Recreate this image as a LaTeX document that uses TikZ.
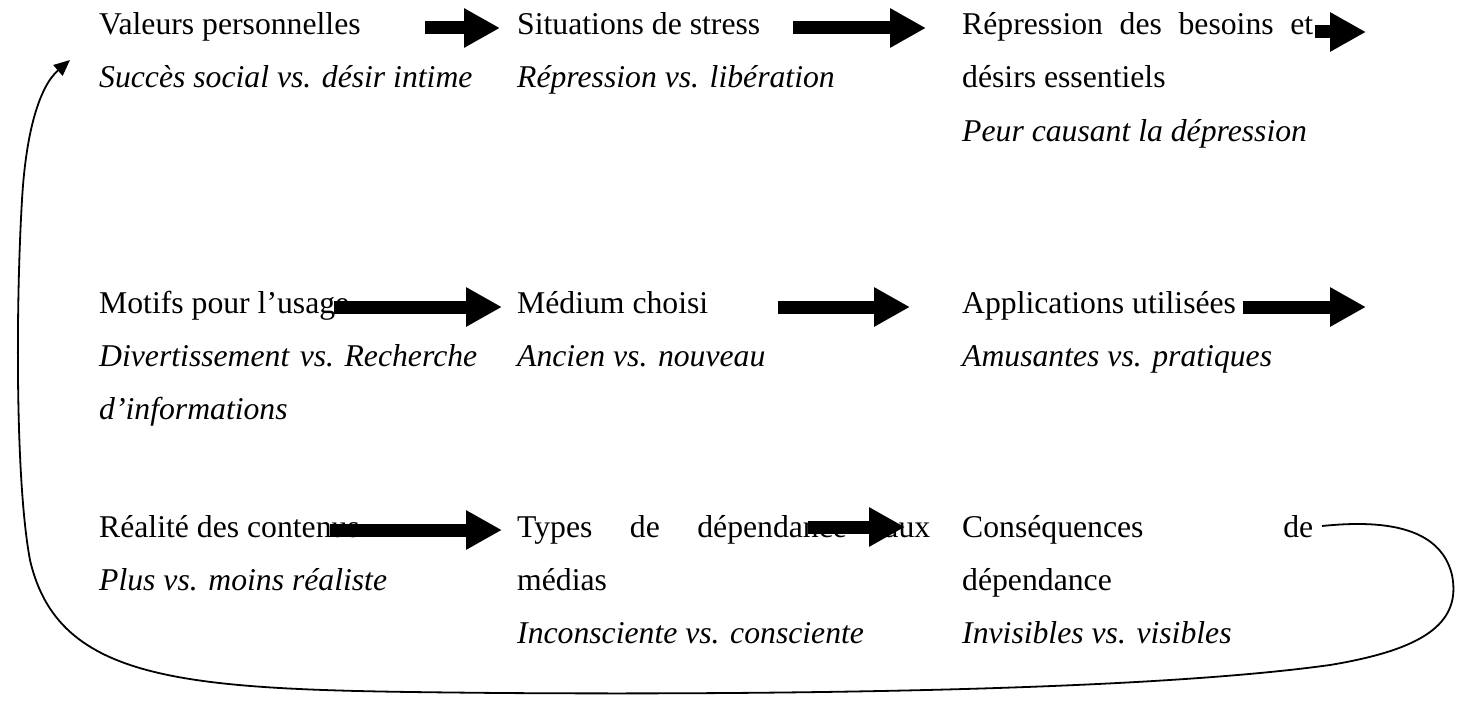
\documentclass[tikz,border=0pt]{standalone}
\usepackage{fontspec}
\setmainfont{Liberation Serif}
\usetikzlibrary{arrows.meta}
\begin{document}
\begin{tikzpicture}[x=1pt,y=-1pt,
  txt/.style={anchor=base west, inner sep=0pt, font=\fontsize{31.7}{38}\selectfont},
  itx/.style={anchor=base west, inner sep=0pt, font=\fontsize{31.7}{38}\selectfont\itshape},
  blockarrow/.style={line width=13pt, -{Triangle[length=36pt,width=37pt]}},
  loopline/.style={line width=1.8pt, -{Triangle[length=16pt,width=14pt]}}]
\fill[white] (0,0) rectangle (1468,701);
\useasboundingbox (0,0) rectangle (1468,701);
% row 1
\node[txt] (v1) at (99,35) {Valeurs personnelles};
\node[itx] (v2) at (99,88) {Succès social vs. désir intime};
\node[txt] (s1) at (517,35) {Situations de stress};
\node[itx] (s2) at (517,88) {Répression vs. libération};
\node[txt] (r1) at (962,35) {\makebox[351pt][s]{Répression\hfill des\hfill besoins\hfill et}};
\node[txt] (r2) at (962,88) {désirs essentiels};
\node[itx] (r3) at (962,141) {Peur causant la dépression};
% row 2
\node[txt] (m1) at (99,313) {Motifs pour l’usage};
\node[itx] (m2) at (99,366) {\makebox[378pt][s]{Divertissement\hfill vs.\hfill Recherche}};
\node[itx] (m3) at (99,419) {d’informations};
\node[txt] (d1) at (517,313) {Médium choisi};
\node[itx] (d2) at (517,366) {Ancien vs. nouveau};
\node[txt] (p1) at (962,313) {Applications utilisées};
\node[itx] (p2) at (962,366) {Amusantes vs. pratiques};
% row 3
\node[txt] (c1) at (99,537) {Réalité des contenus};
\node[itx] (c2) at (99,590) {Plus vs. moins réaliste};
\node[txt] (t1) at (517,537) {\makebox[413pt][s]{Types\hfill de\hfill dépendance\hfill aux}};
\node[txt] (t2) at (517,590) {médias};
\node[itx] (t3) at (517,643) {Inconsciente vs. consciente};
\node[txt] (q1) at (962,537) {\makebox[351pt][s]{Conséquences\hfill de}};
\node[txt] (q2) at (962,590) {dépendance};
\node[itx] (q3) at (962,643) {Invisibles vs. visibles};
% arrow end points
\coordinate (a1s) at (425,28);  \coordinate (a1e) at (500,28);
\coordinate (a2s) at (793,28);  \coordinate (a2e) at (926,28);
\coordinate (a3s) at (1315,32); \coordinate (a3e) at (1366,32);
\coordinate (b1s) at (334,307); \coordinate (b1e) at (502,307);
\coordinate (b2s) at (778,307); \coordinate (b2e) at (910,307);
\coordinate (b3s) at (1243,307);\coordinate (b3e) at (1366,307);
\coordinate (c1s) at (330,530); \coordinate (c1e) at (502,530);
\coordinate (c2s) at (808,527); \coordinate (c2e) at (905,527);
\draw[blockarrow] (a1s) -- (a1e);
\draw[blockarrow] (a2s) -- (a2e);
\draw[blockarrow] (a3s) -- (a3e);
\draw[blockarrow] (b1s) -- (b1e);
\draw[blockarrow] (b2s) -- (b2e);
\draw[blockarrow] (b3s) -- (b3e);
\draw[blockarrow] (c1s) -- (c1e);
\draw[blockarrow] (c2s) -- (c2e);
% feedback loop
\coordinate (ls) at (1322,526);
\coordinate (le) at (70,60);
\draw[loopline] (ls)
  .. controls (1380,520) and (1440,525) .. (1452,575)
  .. controls (1462,625) and (1420,650) .. (1330,665)
  .. controls (1150,690) and (800,695) .. (500,693)
  .. controls (200,690) and (60,690) .. (30,560)
  .. controls (15,480) and (16,300) .. (22,200)
  .. controls (26,130) and (40,86) .. (le);
\end{tikzpicture}
\end{document}
